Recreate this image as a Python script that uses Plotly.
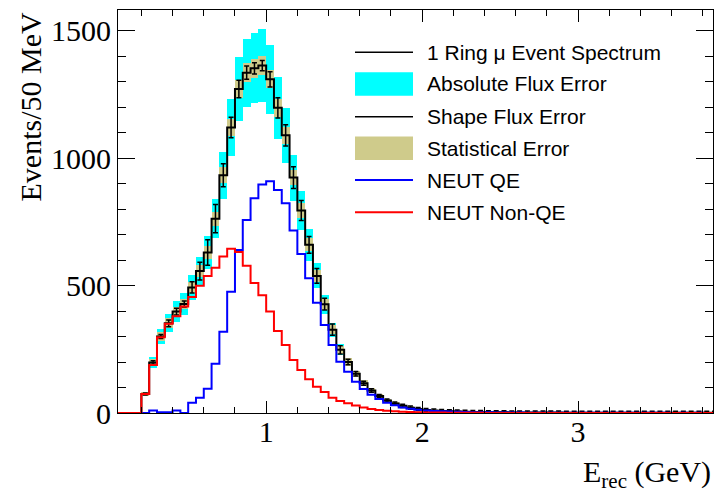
import numpy as np
import plotly.graph_objects as go

# ---------------- data ----------------
bin_width = 0.05
bin_low = np.round(np.arange(0.05, 3.90, bin_width), 2)   # 0.05 ... 3.85 GeV (77 bins)

total = [
    0, 0, 0, 75, 198, 300, 352, 398, 428, 493,
    557, 630, 763, 933, 1121, 1272, 1336, 1353, 1364, 1310,
    1198, 1090, 924, 795, 660, 538, 427, 327, 248, 200,
    154, 117, 88, 67, 49, 37, 28, 21, 16, 12,
    10, 8, 7, 6, 5, 4, 4, 3, 3, 3,
    2, 2, 2, 2, 2, 2, 2, 1, 1, 1,
    1, 1, 1, 1, 1, 1, 1, 1, 1, 1,
    1, 1, 1, 1, 1, 1, 1]

neut_qe = [
    0, 0, 0, 0, 10, 3, 3, 10, 0, 40,
    60, 95, 193, 319, 476, 640, 758, 843, 897, 910,
    875, 823, 716, 624, 529, 433, 345, 267, 201, 162,
    123, 94, 72, 55, 40, 30, 22, 17, 13, 10,
    8, 7, 6, 5, 4, 3, 3, 3, 2, 2,
    2, 2, 1, 1, 1, 1, 1, 1, 1, 1,
    1, 1, 1, 1, 1, 1, 1, 1, 1, 1,
    1, 0, 1, 0, 1, 0, 0]

neut_nonqe = [
    0, 0, 0, 75, 188, 297, 350, 380, 418, 455,
    500, 538, 570, 614, 645, 632, 578, 510, 462, 398,
    322, 267, 208, 169, 132, 103, 82, 60, 47, 38,
    29, 22, 16, 12, 9, 7, 5, 4, 3, 2,
    2, 2, 1, 1, 1, 1, 1, 0, 0, 0,
    0, 0, 0, 0, 0, 0, 0, 0, 0, 0,
    0, 0, 0, 0, 0, 0, 0, 0, 0, 0,
    0, 0, 0, 0, 0, 0, 0]

abs_flux_err = [
    0, 0, 0, 8, 20, 30, 35, 40, 43, 49,
    56, 63, 76, 93, 112, 127, 134, 138, 142, 136,
    122, 108, 90, 76, 62, 49, 38, 28, 21, 16,
    12, 9, 7, 5, 4, 3, 2, 2, 2, 1,
    1, 1, 1, 1, 1, 1, 1, 1, 1, 1,
    1, 1, 1, 1, 1, 1, 1, 1, 1, 1,
    1, 1, 1, 1, 1, 1, 1, 1, 1, 1,
    1, 1, 1, 1, 1, 1, 1]

stat_err = [
    0, 0, 0, 9, 14, 17, 19, 20, 21, 22,
    24, 25, 28, 31, 33, 36, 37, 37, 37, 36,
    35, 33, 30, 28, 26, 23, 21, 18, 16, 14,
    12, 11, 9, 8, 7, 6, 5, 5, 4, 3,
    3, 3, 3, 2, 2, 2, 2, 2, 2, 2,
    1, 1, 1, 1, 1, 1, 1, 1, 1, 1,
    1, 1, 1, 1, 1, 1, 1, 1, 1, 1,
    1, 1, 1, 1, 1, 1, 1]

shape_flux_err = [
    0, 0, 0, 4, 7, 8, 13, 13, 12, 22,
    35, 50, 55, 45, 40, 34, 26, 22, 20, 30,
    40, 42, 43, 39, 33, 29, 23, 22, 16, 11,
    9, 8, 7, 6, 6, 6, 6, 6, 6, 6,
    6, 6, 6, 6, 6, 6, 6, 6, 6, 6,
    6, 6, 6, 6, 6, 6, 6, 6, 6, 6,
    6, 6, 6, 6, 6, 6, 6, 6, 6, 6,
    6, 6, 6, 6, 6, 6, 6]

x_ticks = [1, 2, 3]
y_ticks = [0, 500, 1000, 1500]
legend_labels = ["1 Ring \u03bc Event Spectrum", "Absolute Flux Error", "Shape Flux Error",
                 "Statistical Error", "NEUT QE", "NEUT Non-QE"]

# ---------------- derived helpers ----------------
tot = np.array(total, float)
centers = bin_low + bin_width / 2
step_x = np.append(bin_low, bin_low[-1] + bin_width)

def step_y(v):
    v = list(v)
    return v + [v[-1]]

CYAN = "#00FFFF"
KHAKI = "#CFCB8B"
BLUE = "#0000FF"
RED = "#FF0000"
SERIF = "Liberation Serif"
SANS = "Liberation Sans"

fig = go.Figure()

# absolute flux error band
afe = np.array(abs_flux_err, float)
fig.add_trace(go.Bar(x=centers, y=2 * afe, base=tot - afe, width=bin_width,
                     marker=dict(color=CYAN, line=dict(width=0)), name=legend_labels[1]))
# statistical error band
se = np.array(stat_err, float)
fig.add_trace(go.Bar(x=centers, y=2 * se, base=tot - se, width=bin_width,
                     marker=dict(color=KHAKI, line=dict(width=0)), name=legend_labels[3]))

# total spectrum
fig.add_trace(go.Scatter(x=step_x, y=step_y(total), mode="lines", line=dict(color="black", width=2, shape="hv"),
                         name=legend_labels[0]))
# shape flux error bars
mask = tot > 0
fig.add_trace(go.Scatter(x=centers[mask], y=tot[mask], mode="markers",
                         marker=dict(size=1, color="black"),
                         error_y=dict(type="data", array=np.array(shape_flux_err, float)[mask],
                                      width=2.5, thickness=1.5, color="black"),
                         name=legend_labels[2]))
# NEUT QE
fig.add_trace(go.Scatter(x=step_x, y=step_y(neut_qe), mode="lines", line=dict(color=BLUE, width=2, shape="hv"),
                         name=legend_labels[4]))
# NEUT non-QE
fig.add_trace(go.Scatter(x=step_x, y=step_y(neut_nonqe), mode="lines", line=dict(color=RED, width=2, shape="hv"),
                         name=legend_labels[5]))

# ---------------- layout ----------------
W, H = 714, 492
ML, MR, MT, MB = 118, 1, 10, 79
PW, PH = W - ML - MR, H - MT - MB

def xp(px):
    return (px - ML) / PW

def yp(py):
    return (H - MB - py) / PH

fig.update_layout(
    width=W, height=H,
    margin=dict(l=ML, r=MR, t=MT, b=MB, pad=0),
    paper_bgcolor="white", plot_bgcolor="white",
    showlegend=False, barmode="overlay", bargap=0,
    xaxis=dict(range=[0.05, 3.865], tickmode="array", tickvals=x_ticks,
               ticktext=[str(v) for v in x_ticks],
               ticks="inside", ticklen=12, tickwidth=1, tickcolor="black",
               ticklabelstandoff=-8,
               showline=True, linecolor="black", linewidth=1, mirror="ticks",
               showgrid=False, zeroline=False,
               tickfont=dict(family=SERIF, size=30, color="black"),
               minor=dict(tickmode="linear", tick0=0, dtick=0.2, ticks="inside", ticklen=6,
                          tickcolor="black", tickwidth=1, showgrid=False)),
    yaxis=dict(range=[0, 1582], tickmode="array", tickvals=y_ticks,
               ticktext=[str(v) for v in y_ticks],
               ticks="inside", ticklen=17, tickwidth=1, tickcolor="black",
               showline=True, linecolor="black", linewidth=1, mirror="ticks",
               showgrid=False, zeroline=False,
               tickfont=dict(family=SERIF, size=30, color="black"),
               minor=dict(tickmode="linear", tick0=0, dtick=100, ticks="inside", ticklen=8,
                          tickcolor="black", tickwidth=1, showgrid=False)),
)

# axis titles
annotations = [
    dict(text="Events/50 MeV", textangle=-90, x=xp(30), y=yp(11), xref="paper", yref="paper",
         xanchor="center", yanchor="top", showarrow=False,
         font=dict(family=SERIF, size=30, color="black")),
    dict(text="E<sub>rec</sub> (GeV)", x=xp(713), y=yp(474), xref="paper", yref="paper",
         xanchor="right", yanchor="middle", showarrow=False,
         font=dict(family=SERIF, size=30, color="black")),
]

# manual legend (ROOT-style)
rows = [52.3, 84.0, 116.7, 148.3, 180.0, 212.3]
sx0, sx1, tx = 355, 413, 425
shapes = []
styles = [("line", "black", 1.5), ("box", CYAN, 0), ("line", "black", 1.5),
          ("box", KHAKI, 0), ("line", BLUE, 2), ("line", RED, 2)]
for lab, ry, (kind, col, lw) in zip(legend_labels, rows, styles):
    if kind == "line":
        shapes.append(dict(type="line", xref="paper", yref="paper", x0=xp(sx0), x1=xp(sx1),
                           y0=yp(ry), y1=yp(ry), line=dict(color=col, width=lw)))
    else:
        shapes.append(dict(type="rect", xref="paper", yref="paper", x0=xp(sx0), x1=xp(sx1),
                           y0=yp(ry - 11.7), y1=yp(ry + 11.7), fillcolor=col, line=dict(width=0)))
    annotations.append(dict(text=lab, x=xp(tx), y=yp(ry), xref="paper", yref="paper",
                            xanchor="left", yanchor="middle", showarrow=False,
                            font=dict(family=SANS, size=21, color="black")))

fig.update_layout(annotations=annotations, shapes=shapes)

fig.write_html("out.html")
